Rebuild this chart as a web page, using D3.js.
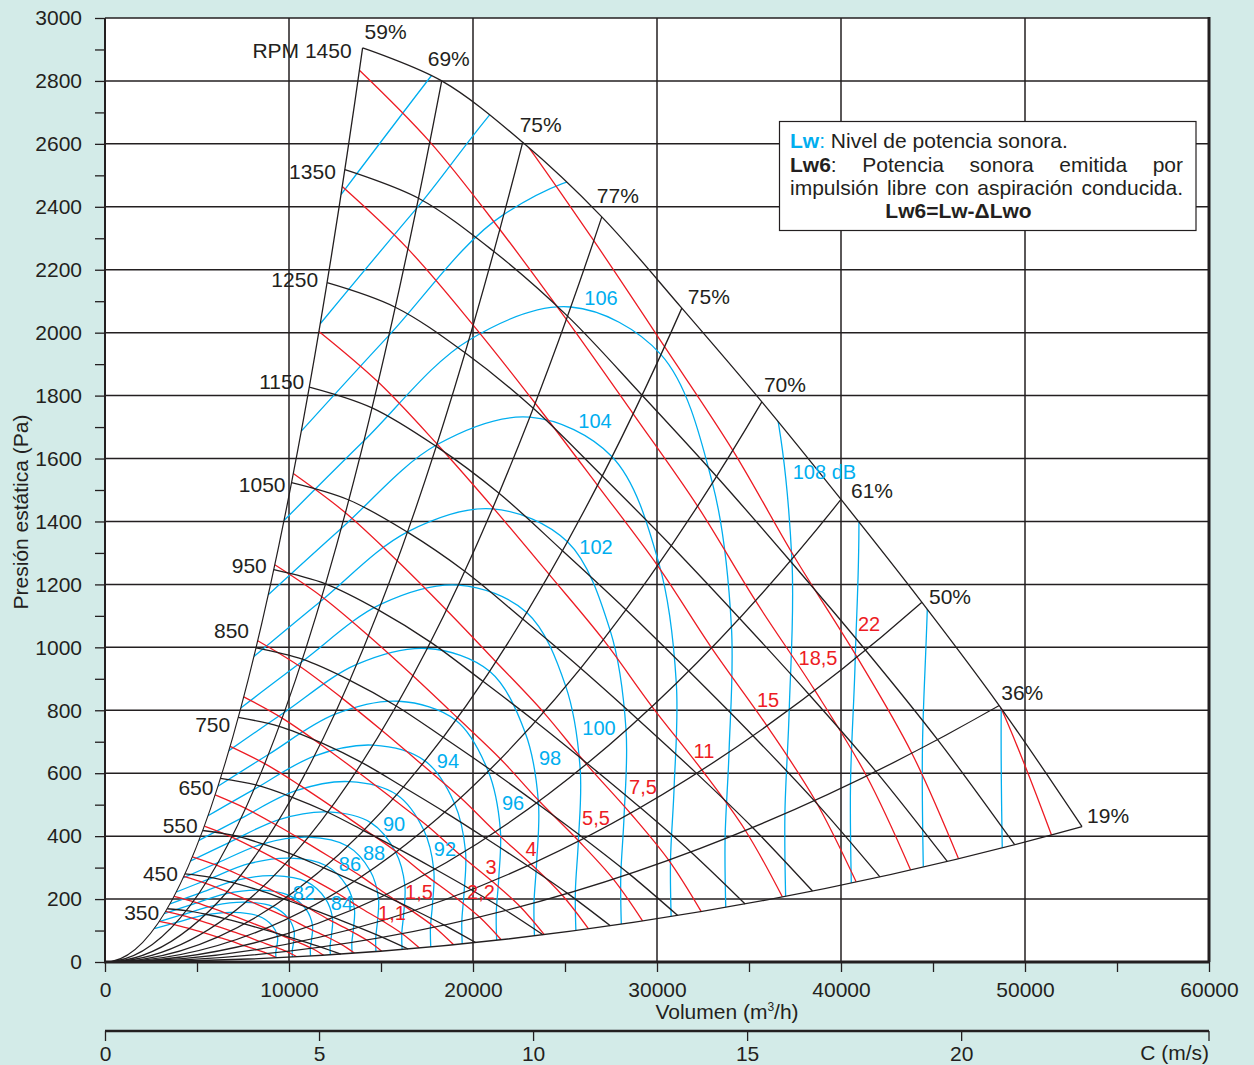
<!DOCTYPE html>
<html><head><meta charset="utf-8">
<script src="https://cdn.jsdelivr.net/npm/d3@7"></script>
<style>
body{margin:0;background:#d3ebe8;}
svg{display:block;font-family:"Liberation Sans",Arial,sans-serif;}
</style></head><body>
<svg id="chart" width="1254" height="1065"></svg>
<script>
// ---------------- DATA ----------------
// Operating points of the 1450 rpm curve, one per efficiency line
const effLabels = ["59%","69%","75%","77%","75%","70%","61%","50%","36%","19%"];
const baseQ = [14000, 18300, 22700, 27000, 31350, 35700, 40000, 44400, 48600, 53100]; // m3/h
const baseP = [2905, 2800, 2605, 2368, 2078, 1780, 1470, 1143, 815, 430];            // Pa
const basePower = [19.2, 20.6, 21.9, 23.1, 24.1, 25.2, 26.8, 28.2, 29.95, 33.0];    // kW at 1450 rpm
const baseLw = [113.9, 111.7, 109.0, 107.4, 106.8, 107.7, 109.5, 111.85, 113.95, 115.85]; // dB at 1450 rpm
const baseRpm = 1450;
const rpmValues = [350, 450, 550, 650, 750, 850, 950, 1050, 1150, 1250, 1350, 1450];
const rpmLabels = ["350","450","550","650","750","850","950","1050","1150","1250","1350","RPM 1450"];
const powerValues = [0.18, 0.25, 0.37, 0.55, 0.75, 1.1, 1.5, 2.2, 3, 4, 5.5, 7.5, 11, 15, 18.5, 22, 30];
const lwValues = [78, 80, 82, 84, 86, 88, 90, 92, 94, 96, 98, 100, 102, 104, 106, 108, 110, 112, 114];
const lwLabelText = ["82","84","86","88","90","92","94","96","98","100","102","104","106","108 dB"];
const lwLabelQ = [10815, 12880, 13315, 14620, 15707, 18478, 18641, 22174, 24185, 26848, 26685, 26630, 26957, 39100];
const lwLabelP = [219, 188, 311, 346, 439, 359, 639, 505, 648, 744, 1319, 1719, 2110, 1559];
const kwLabelText = ["1,1","1,5","2,2","3","4","5,5","7,5","11","15","18,5","22"];
const kwLabelQ = [15598, 17065, 20435, 20978, 23152, 26685, 29239, 32554, 36033, 38750, 41522];
const kwLabelP = [156, 222, 222, 302, 359, 458, 556, 671, 833, 966, 1074];
const xTickValues = [0, 10000, 20000, 30000, 40000, 50000, 60000];
const yTickValues = [0, 200, 400, 600, 800, 1000, 1200, 1400, 1600, 1800, 2000, 2200, 2400, 2600, 2800, 3000];
const cTickValues = [0, 5, 10, 15, 20];
const cMax = 25.79; // m/s at 60000 m3/h

// ---------------- STYLE / LAYOUT ----------------
const BLUE = "#00aeef", RED = "#ed1c24", INK = "#231f20";
const L = 105, R = 1209, T = 18, B = 962;
const effLabelDx = [2, -14, -3, -5, 6, 2, 10, 7, 2, 5];
const effLabelDy = [-9, -15, -10, -14, -4, -10, -1, 2, -6, -4];
const rpmLabelDx = [-8, -7, -5, -7, -8, -7, -7, -6, -5, -9, -9, -11];
const rpmLabelDy = [11, 7.5, 3, 17, 14.5, -9.5, 3, 9.5, 1.5, 4, 9, 10];

const svg = d3.select("#chart");
const x = d3.scaleLinear().domain([0, 60000]).range([L, R]);
const y = d3.scaleLinear().domain([0, 3000]).range([B, T]);
const c = d3.scaleLinear().domain([0, cMax]).range([L, R]);

svg.append("rect").attr("width", 1254).attr("height", 1065).attr("fill", "#d3ebe8");
svg.append("rect").attr("x", L).attr("y", T).attr("width", R - L).attr("height", B - T).attr("fill", "#fff");

// grid
const grid = svg.append("g").attr("stroke", INK).attr("stroke-width", 1.5);
grid.selectAll("line.gx").data(xTickValues.filter(v => v > 0 && v < 60000)).join("line")
  .attr("x1", d => x(d)).attr("x2", d => x(d)).attr("y1", T).attr("y2", B);
grid.selectAll("line.gy").data(yTickValues.filter(v => v > 0)).join("line")
  .attr("y1", d => y(d)).attr("y2", d => y(d)).attr("x1", L).attr("x2", R);

// fan-law helpers
const pt = (j, s) => [baseQ[j] * s, baseP[j] * s * s];
const rpmCurve = n => baseQ.map((q, j) => pt(j, n / baseRpm));
const powerCurve = w => baseQ.map((q, j) => pt(j, Math.cbrt(w / basePower[j])));
const lwCurve = lv => baseQ.map((q, j) => pt(j, Math.pow(10, (lv - baseLw[j]) / 50)));
const line = d3.line().x(d => x(d[0])).y(d => y(d[1])).curve(d3.curveCatmullRom.alpha(0.5));
const effPath = j => `M${x(0)},${y(0)} Q${x(baseQ[j] / 2)},${y(0)} ${x(baseQ[j])},${y(baseP[j])}`;

const base = baseQ.map((q, j) => [q, baseP[j]]);
const last = baseQ.length - 1;
svg.append("clipPath").attr("id", "fanclip").append("path")
  .attr("d", line(base) + ` Q${x(baseQ[last] / 2)},${y(0)} ${x(0)},${y(0)} Q${x(baseQ[0] / 2)},${y(0)} ${x(baseQ[0])},${y(baseP[0])}Z`);

const curves = svg.append("g").attr("fill", "none").attr("clip-path", "url(#fanclip)");
curves.append("g").attr("stroke", BLUE).attr("stroke-width", 1.3)
  .selectAll("path").data(lwValues).join("path").attr("d", d => line(lwCurve(d)));
curves.append("g").attr("stroke", RED).attr("stroke-width", 1.3)
  .selectAll("path").data(powerValues).join("path").attr("d", d => line(powerCurve(d)));

const blk = svg.append("g").attr("fill", "none").attr("stroke", INK).attr("stroke-width", 1.3);
blk.selectAll("path.eff").data(d3.range(baseQ.length)).join("path").attr("d", j => effPath(j));
blk.selectAll("path.rpm").data(rpmValues).join("path").attr("d", n => line(rpmCurve(n)));

// labels
const lab = svg.append("g").attr("font-size", 20);
lab.selectAll("text.eff").data(effLabels).join("text")
  .attr("x", (d, j) => x(baseQ[j]) + effLabelDx[j]).attr("y", (d, j) => y(baseP[j]) + effLabelDy[j])
  .attr("fill", INK).attr("font-size", 21).text(d => d);
lab.selectAll("text.rpm").data(rpmValues).join("text")
  .attr("x", (n, i) => x(baseQ[0] * n / baseRpm) + rpmLabelDx[i])
  .attr("y", (n, i) => y(baseP[0] * (n / baseRpm) ** 2) + rpmLabelDy[i])
  .attr("text-anchor", "end").attr("fill", INK).attr("font-size", 21).text((n, i) => rpmLabels[i]);
lab.selectAll("text.lw").data(lwLabelText).join("text")
  .attr("x", (d, i) => x(lwLabelQ[i])).attr("y", (d, i) => y(lwLabelP[i])).attr("dy", "0.36em")
  .attr("text-anchor", "middle").attr("fill", BLUE).text(d => d);
lab.selectAll("text.kw").data(kwLabelText).join("text")
  .attr("x", (d, i) => x(kwLabelQ[i])).attr("y", (d, i) => y(kwLabelP[i])).attr("dy", "0.36em")
  .attr("text-anchor", "middle").attr("fill", RED).text(d => d);

// axes
const yAxis = d3.axisLeft(y).tickValues(d3.range(0, 3001, 100)).tickSize(10).tickPadding(13)
  .tickFormat(d => yTickValues.includes(d) ? d : "");
const gy = svg.append("g").attr("transform", `translate(${L},0)`).call(yAxis);
gy.attr("font-family", null).attr("font-size", 21);
gy.select(".domain").remove();
gy.selectAll(".tick line").attr("stroke", INK).attr("stroke-width", 1.3);
gy.selectAll(".tick text").attr("fill", INK);

const xAxis = d3.axisBottom(x).tickValues(d3.range(0, 60001, 5000)).tickSize(10).tickPadding(10)
  .tickFormat(d => xTickValues.includes(d) ? d : "");
const gx = svg.append("g").attr("transform", `translate(0,${B})`).call(xAxis);
gx.attr("font-family", null).attr("font-size", 21);
gx.select(".domain").remove();
gx.selectAll(".tick line").attr("stroke", INK).attr("stroke-width", 1.3);
gx.selectAll(".tick text").attr("fill", INK);

const cAxis = d3.axisBottom(c).tickValues(cTickValues).tickSize(10).tickPadding(5).tickFormat(d => d);
const gc = svg.append("g").attr("transform", `translate(0,1031)`).call(cAxis);
gc.attr("font-family", null).attr("font-size", 21);
gc.select(".domain").remove();
gc.selectAll(".tick line").attr("stroke", INK).attr("stroke-width", 1.3);
gc.selectAll(".tick text").attr("fill", INK);
svg.append("line").attr("x1", L).attr("x2", R).attr("y1", 1031).attr("y2", 1031).attr("stroke", INK).attr("stroke-width", 2.5);
svg.append("line").attr("x1", R).attr("x2", R).attr("y1", 1031).attr("y2", 1041).attr("stroke", INK).attr("stroke-width", 1.3);

// frame
svg.append("line").attr("x1", L).attr("x2", L).attr("y1", T).attr("y2", B).attr("stroke", INK).attr("stroke-width", 2);
svg.append("line").attr("x1", R).attr("x2", R).attr("y1", T - 1).attr("y2", B).attr("stroke", INK).attr("stroke-width", 3);
svg.append("line").attr("x1", L - 1).attr("x2", R + 1).attr("y1", B).attr("y2", B).attr("stroke", INK).attr("stroke-width", 3);

// axis titles
const t1 = svg.append("text").attr("x", 727).attr("y", 1019).attr("text-anchor", "middle").attr("font-size", 21).attr("fill", INK);
t1.append("tspan").text("Volumen (m");
t1.append("tspan").attr("font-size", 12).attr("dy", -8).text("3");
t1.append("tspan").attr("dy", 8).text("/h)");
svg.append("text").attr("x", R).attr("y", 1060).attr("text-anchor", "end").attr("font-size", 21).attr("fill", INK).text("C (m/s)");
svg.append("text").attr("transform", "translate(28,512) rotate(-90)").attr("text-anchor", "middle")
  .attr("font-size", 21).attr("fill", INK).text("Presión estática (Pa)");

// legend box
const lg = svg.append("g").attr("font-size", 21).attr("fill", INK);
lg.append("rect").attr("x", 779.5).attr("y", 121.5).attr("width", 416.5).attr("height", 109)
  .attr("fill", "#fff").attr("stroke", INK).attr("stroke-width", 1.2);
const l1 = lg.append("text").attr("x", 790).attr("y", 148);
l1.append("tspan").attr("fill", BLUE).attr("font-weight", "bold").text("Lw");
l1.append("tspan").attr("fill", BLUE).text(":");
l1.append("tspan").text(" Nivel de potencia sonora.");
function justify(words, yy, x0, x1, boldFirst) {
  const nodes = words.map((w, i) => {
    const t = lg.append("text").attr("y", yy).text(w);
    if (boldFirst && i === 0) { t.text(""); t.append("tspan").attr("font-weight", "bold").text(w.replace(":", "")); t.append("tspan").text(":"); }
    return t;
  });
  const widths = nodes.map(n => n.node().getComputedTextLength());
  const gap = (x1 - x0 - d3.sum(widths)) / (words.length - 1);
  let cx = x0;
  nodes.forEach((n, i) => { n.attr("x", cx); cx += widths[i] + gap; });
}
justify(["Lw6:", "Potencia", "sonora", "emitida", "por"], 171.5, 790, 1183, true);
justify(["impulsión", "libre", "con", "aspiración", "conducida."], 194.5, 790, 1183, false);
lg.append("text").attr("x", 958.5).attr("y", 218).attr("text-anchor", "middle").attr("font-weight", "bold").text("Lw6=Lw-ΔLwo");
</script>
</body></html>
